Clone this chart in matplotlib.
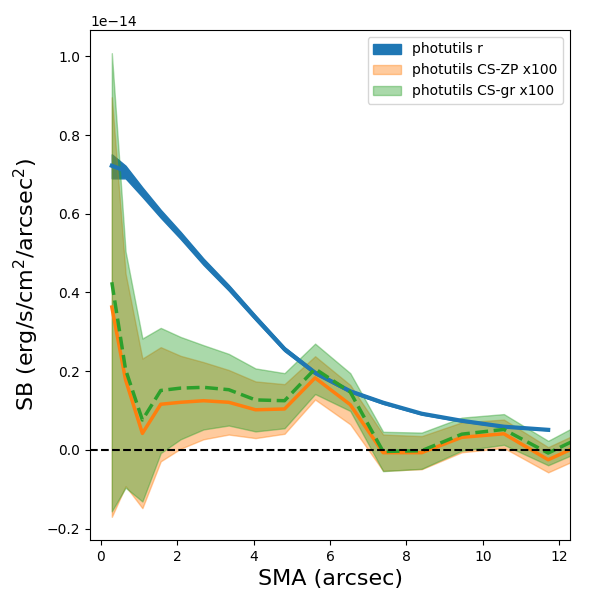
import numpy as np
import matplotlib
matplotlib.use('Agg')
import matplotlib.pyplot as plt

# surface brightness profiles, values in units of 1e-14
sma = [0.29, 0.65, 1.09, 1.57, 2.09, 2.69, 3.35, 4.05, 4.81, 5.61,
       6.53, 7.39, 8.40, 9.45, 10.55, 11.71]
sb_r = [0.722, 0.709, 0.655, 0.600, 0.545, 0.478, 0.412, 0.336, 0.256, 0.196,
        0.149, 0.120, 0.092, 0.074, 0.059, 0.051]
sb_r_lo = [0.690, 0.690, 0.643, 0.590, 0.536, 0.470, 0.405, 0.330, 0.251, 0.192,
           0.146, 0.117, 0.090, 0.072, 0.058, 0.050]
sb_r_hi = [0.751, 0.722, 0.667, 0.610, 0.554, 0.486, 0.419, 0.342, 0.261, 0.200,
           0.152, 0.123, 0.094, 0.076, 0.060, 0.052]

sma_cs = sma + [12.95]
sb_zp = [0.363, 0.178, 0.042, 0.116, 0.121, 0.125, 0.121, 0.102, 0.104, 0.183,
         0.115, -0.007, -0.007, 0.032, 0.041, -0.025, 0.030]
err_zp = [0.533, 0.270, 0.190, 0.145, 0.118, 0.098, 0.082, 0.072, 0.063, 0.055,
          0.050, 0.046, 0.042, 0.038, 0.036, 0.032, 0.033]
sb_gr = [0.426, 0.204, 0.076, 0.151, 0.157, 0.159, 0.153, 0.127, 0.125, 0.206,
         0.147, -0.004, -0.002, 0.040, 0.052, -0.008, 0.050]
err_gr = [0.582, 0.300, 0.207, 0.159, 0.130, 0.107, 0.091, 0.080, 0.070, 0.064,
          0.048, 0.050, 0.046, 0.042, 0.039, 0.031, 0.037]

scale = 1e-14
x = np.array(sma)
xc = np.array(sma_cs)
r = np.array(sb_r) * scale
zp = np.array(sb_zp) * scale
gr = np.array(sb_gr) * scale
ezp = np.array(err_zp) * scale
egr = np.array(err_gr) * scale

fig, ax = plt.subplots(figsize=(6, 6), dpi=100)
plt.subplots_adjust(left=0.15, right=0.95, bottom=0.1, top=0.95)

ax.fill_between(x, np.array(sb_r_lo) * scale, np.array(sb_r_hi) * scale,
                color='tab:blue', label='photutils r')
ax.plot(x, r, color='tab:blue', lw=3)
xlim = ax.get_xlim()

ax.fill_between(xc, zp - ezp, zp + ezp, color='tab:orange', alpha=0.4,
                label='photutils CS-ZP x100')
ax.plot(xc, zp, color='tab:orange', lw=2.5)
ax.fill_between(xc, gr - egr, gr + egr, color='tab:green', alpha=0.4,
                label='photutils CS-gr x100')
ax.plot(xc, gr, color='tab:green', lw=2.5, ls='--')

ax.axhline(0, color='k', ls='--', lw=1.5)
ax.set_xlim(xlim)

ax.set_xlabel('SMA (arcsec)', fontsize=16)
ax.set_ylabel('SB (erg/s/cm$^2$/arcsec$^2$)', fontsize=16)
ax.legend(loc='upper right')

plt.savefig('out.png')
